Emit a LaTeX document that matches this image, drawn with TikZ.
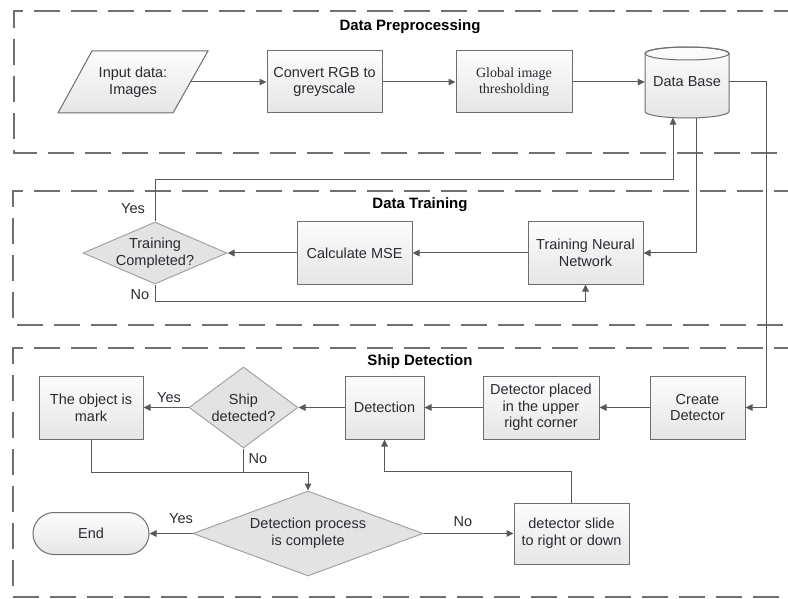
\documentclass[tikz,border=0pt]{standalone}
\usepackage{fontspec}
\setmainfont{Liberation Sans}
\newfontfamily\globfont{Liberation Serif}
\usetikzlibrary{shapes.geometric,arrows.meta}
\definecolor{linec}{HTML}{595959}
\definecolor{boxb}{HTML}{6E6E6E}
\definecolor{dmdb}{HTML}{A3A3A3}
\definecolor{dmdf}{HTML}{E3E3E3}
\definecolor{framec}{HTML}{707070}
\definecolor{txt}{HTML}{2A2A32}
\tikzset{
  txtnode/.style={align=center, text=txt, inner sep=0pt, font=\fontsize{14.5}{16.7}\selectfont},
  box/.style={txtnode, rectangle, draw=boxb, line width=1pt, top color=black!1, bottom color=black!10},
  dmd/.style={diamond, draw=dmdb, line width=1pt, fill=dmdf, inner sep=0pt},
  arr/.style={draw=linec, line width=1pt, -{Triangle[length=7pt,width=6.5pt]}},
  ln/.style={draw=linec, line width=1pt},
  lbl/.style={text=txt, inner sep=0pt, font=\fontsize{14.5}{16.7}\selectfont},
  framebox/.style={draw=framec, line width=2.4pt, dash pattern=on 26pt off 11pt},
  ttl/.style={text=black, inner sep=0pt, font=\bfseries\fontsize{15}{17}\selectfont}
}
\begin{document}
\begin{tikzpicture}[x=1pt,y=1pt]
\useasboundingbox (0,0) rectangle (788,-599);
\begin{scope}
\clip (0,0) rectangle (788,-599);
\draw[framebox] (800,-11) -- (14,-11) -- (14,-153) -- (800,-153);
\draw[framebox] (800,-191) -- (13,-191) -- (13,-325) -- (800,-325);
\draw[framebox] (800,-348) -- (13,-348) -- (13,-597) -- (800,-597);
\end{scope}

% titles
\node[ttl] (t1) at (410,-27) {Data Preprocessing};
\node[ttl] (t2) at (420,-205) {Data Training};
\node[ttl] (t3) at (420,-362) {Ship Detection};

% Data preprocessing
\shade[top color=black!1, bottom color=black!10, draw=boxb, line width=1pt]
  (58,-113) -- (92,-51) -- (208,-51) -- (173,-113) -- cycle;
\node[txtnode, minimum width=116, minimum height=62] (in) at (133,-82) {Input data:\\Images};
\node[box, minimum width=115, minimum height=62] (rgb) at (324.5,-82) {Convert RGB to\\greyscale};
\node[box, minimum width=116, minimum height=62, font=\globfont\fontsize{14}{16.5}\selectfont] (glob) at (514,-82) {Global image\\thresholding};
\shade[top color=black!1, bottom color=black!10, draw=boxb, line width=1pt]
  (645,-53.5) -- (645,-111.5) arc[start angle=180,end angle=360,x radius=42,y radius=6.5]
  -- (729,-53.5) arc[start angle=0,end angle=180,x radius=42,y radius=6.5] -- cycle;
\draw[boxb, line width=1pt] (687,-53.5) ellipse[x radius=42,y radius=6.5];
\node[txtnode, minimum width=84, minimum height=71] (db) at (687,-82) {Data Base};
\coordinate (dbin) at (673,-117.6);
\coordinate (dbout) at (696,-117.8);

% Data training
\node[box, minimum width=115, minimum height=62] (tnn) at (585.5,-253) {Training Neural\\Network};
\node[box, minimum width=115, minimum height=62] (mse) at (354.5,-253) {Calculate MSE};
\node[dmd, minimum width=144, minimum height=62] (tc) at (155,-253) {};
\node[txtnode] (tctext) at (tc.center) {Training\\Completed?};

% Ship detection
\node[box, minimum width=95, minimum height=63] (create) at (697.5,-407.5) {Create\\Detector};
\node[box, minimum width=116, minimum height=63] (place) at (541,-407.5) {Detector placed\\in the upper\\right corner};
\node[box, minimum width=79, minimum height=63] (det) at (384.5,-407.5) {Detection};
\node[dmd, minimum width=109, minimum height=81] (sd) at (243.5,-407.5) {};
\node[txtnode] (sdtext) at (sd.center) {Ship\\detected?};
\node[box, minimum width=104, minimum height=63] (obj) at (91,-407.5) {The object is\\mark};
\node[dmd, minimum width=230, minimum height=85] (dp) at (308,-533.5) {};
\node[txtnode] (dptext) at (dp.center) {Detection process\\is complete};
\node[box, rounded corners=21pt, minimum width=116, minimum height=42] (end) at (91,-533.5) {End};
\node[box, minimum width=115, minimum height=61] (slide) at (571.5,-533.5) {detector slide\\to right or down};

% connectors
\draw[arr] (in.east) -- (rgb.west);
\draw[arr] (rgb.east) -- (glob.west);
\draw[arr] (glob.east) -- (db.west);
\draw[arr] (db.east) -- ++(37,0) |- (create.east);
\draw[arr] (dbout) |- (tnn.east);
\draw[arr] (tnn.west) -- (mse.east);
\draw[arr] (mse.west) -- (tc.east);
\draw[arr] (tc.north) -- ++(0,42) -| (dbin);
\draw[arr] (tc.south) -- ++(0,-17) -| (tnn.south);
\draw[arr] (create.west) -- (place.east);
\draw[arr] (place.west) -- (det.east);
\draw[arr] (det.west) -- (sd.east);
\draw[arr] (sd.west) -- (obj.east);
\draw[arr] (obj.south) -- ++(0,-33) -| (dp.north);
\draw[ln] (sd.south) -- ++(0,-24);
\draw[arr] (dp.west) -- (end.east);
\draw[arr] (dp.east) -- (slide.west);
\draw[arr] (slide.north) -- ++(0,31) -| (det.south);

% labels
\node[lbl] (l1) at (133,-209) {Yes};
\node[lbl] (l2) at (140,-295) {No};
\node[lbl] (l3) at (169,-398) {Yes};
\node[lbl] (l4) at (258,-459) {No};
\node[lbl] (l5) at (181,-519) {Yes};
\node[lbl] (l6) at (463,-522) {No};
\end{tikzpicture}
\end{document}
